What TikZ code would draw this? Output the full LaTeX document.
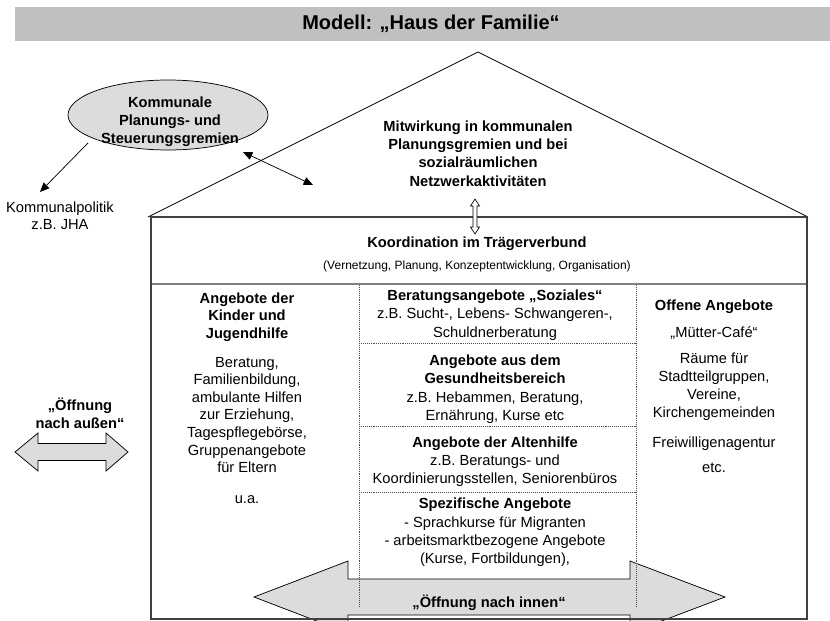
\documentclass[tikz,border=0pt]{standalone}
\usepackage{fontspec}
\setmainfont{Liberation Sans}
\usetikzlibrary{arrows.meta,shapes.geometric,calc}
\definecolor{barGray}{HTML}{C0C0C0}
\definecolor{fillGray}{HTML}{DCDCDC}
\newcommand\textlines[6]{%
  \foreach \lin [count=\k] in {#6} \node[#2] (#1\k) at (#3,{#4+#5*(\k-1)}) {\lin};}
\begin{document}
\begin{tikzpicture}[x=0.75pt,y=-0.75pt,
  tx/.style={font=\fontsize{11}{13.5}\selectfont, inner sep=0pt, anchor=base},
  bx/.style={font=\fontsize{11}{13.5}\selectfont\bfseries, inner sep=0pt, anchor=base},
  sm/.style={font=\fontsize{9}{11}\selectfont, inner sep=0pt, anchor=base},
  thin/.style={line width=0.55pt, black},
  houseline/.style={line width=1pt, black!75},
  dotline/.style={line width=0.5pt, black!70, dash pattern=on 0.45pt off 1pt},
  blockarrow/.style={fill=fillGray, draw=black, line width=0.55pt, line join=miter},
  tip/.style={-{Triangle[length=7pt,width=6pt]}},
  dtip/.style={{Triangle[length=7pt,width=6pt]}-{Triangle[length=7pt,width=6pt]}}]
\useasboundingbox (0,0) rectangle (830,620);

% title bar
\fill[barGray] (15,7) rectangle (830,41);
\node[font=\fontsize{15}{18}\selectfont\bfseries, inner sep=0pt, anchor=base] (title) at (431,30) {Modell: „Haus der Familie“};

% roof
\draw[thin] (148,217) -- (478,52) -- (808,217);

% big inner arrow
\draw[blockarrow] (254,597) -- (348,561) -- (348,579) -- (630,579) -- (630,561) -- (725,597)
  -- (630,633) -- (630,615) -- (348,615) -- (348,633) -- cycle;

% house body
\draw[houseline] (151,217) rectangle (807,619);
\draw[line width=1.6pt, black!50] (152,284) -- (806,284);

% column dividers
\draw[dotline] (359,285) -- (359,606);
\draw[dotline] (636,285) -- (636,606);
\draw[dotline] (359,343) -- (636,343);
\draw[dotline] (359,426) -- (636,426);
\draw[dotline] (359,492) -- (636,492);

% ellipse
\node[ellipse, draw=black, line width=0.55pt, fill=fillGray, minimum width=150pt, minimum height=52.5pt, inner sep=0pt] (gremien) at (168,115) {};
\textlines{gr}{bx}{170}{108}{18}{Kommunale,Planungs- und,Steuerungsgremien}

% Kommunalpolitik
\textlines{kp}{tx}{60}{213}{16}{Kommunalpolitik,z.B. JHA}
\coordinate (gA) at (88,143);
\coordinate (kpTip) at (40,192);
\draw[thin, tip] (gA) -- (kpTip);
\coordinate (gB) at (243,152);
\coordinate (roofPt) at (313,185);
\draw[thin, dtip] (gB) -- (roofPt);

% roof text
\textlines{rf}{bx}{478}{132}{18}{Mitwirkung in kommunalen,Planungsgremien und bei,sozialräumlichen,Netzwerkaktivitäten}

% small hollow double arrow
\draw[line width=0.5pt, fill=white, line join=miter] (475,199) -- (479.5,206) -- (477,206) -- (477,227) -- (479.5,227) -- (475,234)
  -- (470.5,227) -- (473,227) -- (473,206) -- (470.5,206) -- cycle;

% Koordination
\node[bx] (koord) at (477,247) {Koordination im Trägerverbund};
\node[sm] (koordsub) at (477,269) {(Vernetzung, Planung, Konzeptentwicklung, Organisation)};

% left column
\textlines{kjh}{bx}{247}{303}{17.6}{Angebote der,Kinder und,Jugendhilfe}
\textlines{kjt}{tx}{247}{367}{17.6}{{Beratung,},{Familienbildung,},ambulante Hilfen,{zur Erziehung,},{Tagespflegebörse,},Gruppenangebote,für Eltern}
\node[tx] (kjua) at (247,503) {u.a.};

% middle column
\node[bx] (m1h) at (495,300) {Beratungsangebote „Soziales“};
\textlines{m1t}{tx}{495}{318.5}{18.5}{{z.B. Sucht-, Lebens- Schwangeren-,},Schuldnerberatung}
\textlines{m2h}{bx}{495}{365}{18}{Angebote aus dem,Gesundheitsbereich}
\textlines{m2t}{tx}{495}{402}{18}{{z.B. Hebammen, Beratung,},{Ernährung, Kurse etc}}
\node[bx] (m3h) at (495,447) {Angebote der Altenhilfe};
\textlines{m3t}{tx}{495}{465}{18}{z.B. Beratungs- und,{Koordinierungsstellen, Seniorenbüros}}
\node[bx] (m4h) at (495,508) {Spezifische Angebote};
\textlines{m4t}{tx}{495}{527}{18}{- Sprachkurse für Migranten,- arbeitsmarktbezogene Angebote,{(Kurse, Fortbildungen),}}
\node[bx] (innen) at (489,607) {„Öffnung nach innen“};

% right column
\node[bx] (offen) at (714,310) {Offene Angebote};
\node[tx] (cafe) at (714,337) {„Mütter-Café“};
\textlines{rm}{tx}{714}{363}{18.2}{Räume für,{Stadtteilgruppen,},{Vereine,},Kirchengemeinden}
\node[tx] (frei) at (714,447) {Freiwilligenagentur};
\node[tx] (etc) at (714,472) {etc.};

% outer arrow
\textlines{aus}{bx}{80}{410}{18}{„Öffnung,nach außen“}
\draw[blockarrow] (15,452) -- (38,433) -- (38,443.5) -- (106,443.5) -- (106,433) -- (128,452)
  -- (106,471) -- (106,460.5) -- (38,460.5) -- (38,471) -- cycle;
\end{tikzpicture}
\end{document}
